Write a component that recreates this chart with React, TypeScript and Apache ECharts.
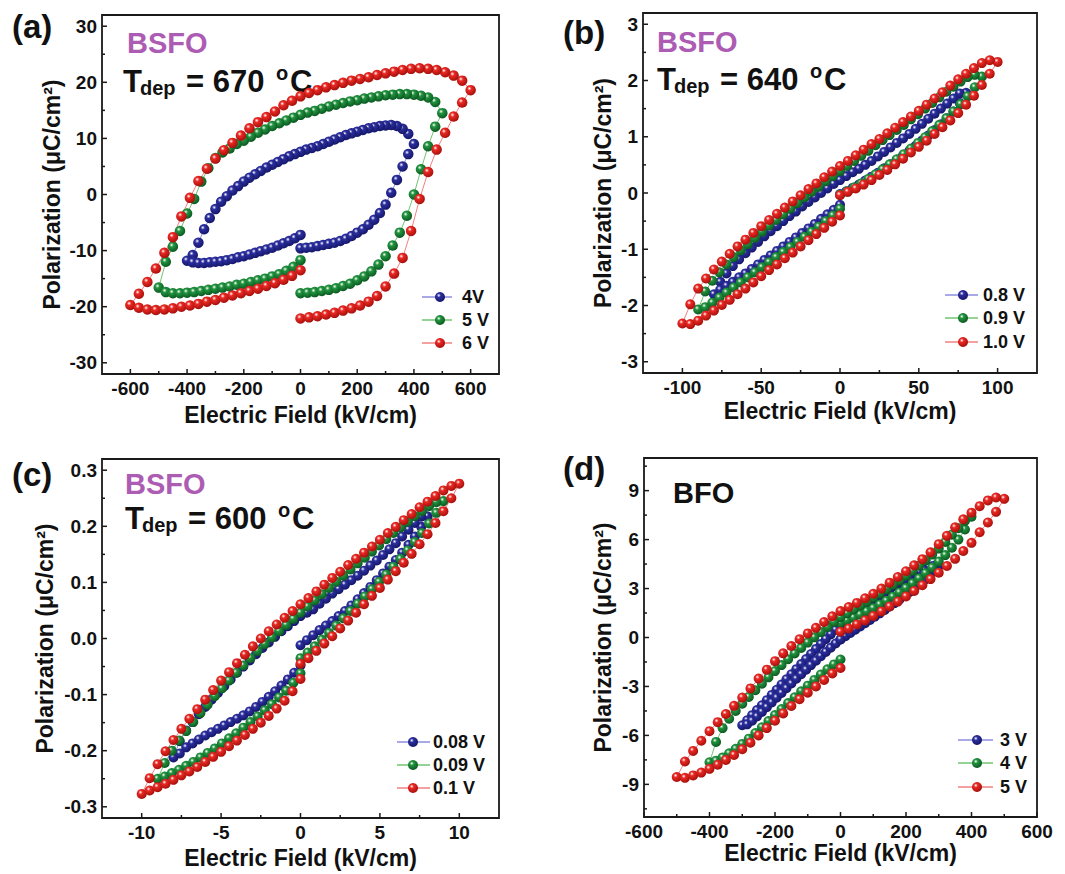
import React, { useEffect, useRef } from "react";
import * as echarts from "echarts";

// ---------- electric-field grids (kV/cm), one per drive amplitude ----------
const FIELD_600 = [0,30,60,90,120,150,180,210,240,270,300,330,360,390,420,450,480,510,540,570,600,570,540,510,480,450,420,390,360,330,300,270,240,210,180,150,120,90,60,30,0,-30,-60,-90,-120,-150,-180,-210,-240,-270,-300,-330,-360,-390,-420,-450,-480,-510,-540,-570,-600,-570,-540,-510,-480,-450,-420,-390,-360,-330,-300,-270,-240,-210,-180,-150,-120,-90,-60,-30,0];
const FIELD_500 = [0,25,50,75,100,125,150,175,200,225,250,275,300,325,350,375,400,425,450,475,500,475,450,425,400,375,350,325,300,275,250,225,200,175,150,125,100,75,50,25,0,-25,-50,-75,-100,-125,-150,-175,-200,-225,-250,-275,-300,-325,-350,-375,-400,-425,-450,-475,-500,-475,-450,-425,-400,-375,-350,-325,-300,-275,-250,-225,-200,-175,-150,-125,-100,-75,-50,-25,0];
const FIELD_400 = [0,20,40,60,80,100,120,140,160,180,200,220,240,260,280,300,320,340,360,380,400,380,360,340,320,300,280,260,240,220,200,180,160,140,120,100,80,60,40,20,0,-20,-40,-60,-80,-100,-120,-140,-160,-180,-200,-220,-240,-260,-280,-300,-320,-340,-360,-380,-400,-380,-360,-340,-320,-300,-280,-260,-240,-220,-200,-180,-160,-140,-120,-100,-80,-60,-40,-20,0];
const FIELD_300 = [0,15,30,45,60,75,90,105,120,135,150,165,180,195,210,225,240,255,270,285,300,285,270,255,240,225,210,195,180,165,150,135,120,105,90,75,60,45,30,15,0,-15,-30,-45,-60,-75,-90,-105,-120,-135,-150,-165,-180,-195,-210,-225,-240,-255,-270,-285,-300,-285,-270,-255,-240,-225,-210,-195,-180,-165,-150,-135,-120,-105,-90,-75,-60,-45,-30,-15,0];
const FIELD_100 = [0,5,10,15,20,25,30,35,40,45,50,55,60,65,70,75,80,85,90,95,100,95,90,85,80,75,70,65,60,55,50,45,40,35,30,25,20,15,10,5,0,-5,-10,-15,-20,-25,-30,-35,-40,-45,-50,-55,-60,-65,-70,-75,-80,-85,-90,-95,-100,-95,-90,-85,-80,-75,-70,-65,-60,-55,-50,-45,-40,-35,-30,-25,-20,-15,-10,-5,0];
const FIELD_90 = [0,4.5,9,13.5,18,22.5,27,31.5,36,40.5,45,49.5,54,58.5,63,67.5,72,76.5,81,85.5,90,85.5,81,76.5,72,67.5,63,58.5,54,49.5,45,40.5,36,31.5,27,22.5,18,13.5,9,4.5,0,-4.5,-9,-13.5,-18,-22.5,-27,-31.5,-36,-40.5,-45,-49.5,-54,-58.5,-63,-67.5,-72,-76.5,-81,-85.5,-90,-85.5,-81,-76.5,-72,-67.5,-63,-58.5,-54,-49.5,-45,-40.5,-36,-31.5,-27,-22.5,-18,-13.5,-9,-4.5,0];
const FIELD_80 = [0,4,8,12,16,20,24,28,32,36,40,44,48,52,56,60,64,68,72,76,80,76,72,68,64,60,56,52,48,44,40,36,32,28,24,20,16,12,8,4,0,-4,-8,-12,-16,-20,-24,-28,-32,-36,-40,-44,-48,-52,-56,-60,-64,-68,-72,-76,-80,-76,-72,-68,-64,-60,-56,-52,-48,-44,-40,-36,-32,-28,-24,-20,-16,-12,-8,-4,0];
const FIELD_10 = [0,0.5,1,1.5,2,2.5,3,3.5,4,4.5,5,5.5,6,6.5,7,7.5,8,8.5,9,9.5,10,9.5,9,8.5,8,7.5,7,6.5,6,5.5,5,4.5,4,3.5,3,2.5,2,1.5,1,0.5,0,-0.5,-1,-1.5,-2,-2.5,-3,-3.5,-4,-4.5,-5,-5.5,-6,-6.5,-7,-7.5,-8,-8.5,-9,-9.5,-10,-9.5,-9,-8.5,-8,-7.5,-7,-6.5,-6,-5.5,-5,-4.5,-4,-3.5,-3,-2.5,-2,-1.5,-1,-0.5,0];
const FIELD_9 = [0,0.45,0.9,1.35,1.8,2.25,2.7,3.15,3.6,4.05,4.5,4.95,5.4,5.85,6.3,6.75,7.2,7.65,8.1,8.55,9,8.55,8.1,7.65,7.2,6.75,6.3,5.85,5.4,4.95,4.5,4.05,3.6,3.15,2.7,2.25,1.8,1.35,0.9,0.45,0,-0.45,-0.9,-1.35,-1.8,-2.25,-2.7,-3.15,-3.6,-4.05,-4.5,-4.95,-5.4,-5.85,-6.3,-6.75,-7.2,-7.65,-8.1,-8.55,-9,-8.55,-8.1,-7.65,-7.2,-6.75,-6.3,-5.85,-5.4,-4.95,-4.5,-4.05,-3.6,-3.15,-2.7,-2.25,-1.8,-1.35,-0.9,-0.45,0];
const FIELD_8 = [0,0.4,0.8,1.2,1.6,2,2.4,2.8,3.2,3.6,4,4.4,4.8,5.2,5.6,6,6.4,6.8,7.2,7.6,8,7.6,7.2,6.8,6.4,6,5.6,5.2,4.8,4.4,4,3.6,3.2,2.8,2.4,2,1.6,1.2,0.8,0.4,0,-0.4,-0.8,-1.2,-1.6,-2,-2.4,-2.8,-3.2,-3.6,-4,-4.4,-4.8,-5.2,-5.6,-6,-6.4,-6.8,-7.2,-7.6,-8,-7.6,-7.2,-6.8,-6.4,-6,-5.6,-5.2,-4.8,-4.4,-4,-3.6,-3.2,-2.8,-2.4,-2,-1.6,-1.2,-0.8,-0.4,0];

// ---------- polarization (µC/cm²), read off the loops ----------
// (a) BSFO, Tdep = 670 °C
const P_A_4V = [-9.6,-9.5,-9.4,-9.2,-9.0,-8.8,-8.6,-8.3,-7.9,-7.4,-6.8,-6.2,-5.4,-4.5,-3.3,-1.8,0.3,2.6,5.0,7.2,9.0,
  10.8,11.7,12.2,12.4,12.3,12.2,12.0,11.8,11.5,11.2,10.9,10.6,10.2,9.8,9.4,9.0,8.6,8.3,8.0,7.6,7.2,6.8,6.3,5.8,5.3,4.8,4.2,3.6,3.0,2.3,1.5,0.7,-0.3,-1.3,-2.6,-4.2,-6.2,-8.6,-10.8,-11.8,
  -12.1,-12.2,-12.2,-12.1,-12.0,-11.9,-11.7,-11.5,-11.2,-11.0,-10.7,-10.4,-10.1,-9.8,-9.5,-9.1,-8.7,-8.3,-7.8,-7.2];
const P_A_5V = [-17.6,-17.5,-17.4,-17.2,-17.0,-16.7,-16.3,-15.9,-15.3,-14.6,-13.7,-12.5,-11.0,-9.1,-6.8,-3.8,0.0,4.5,8.6,12.1,14.5,
  16.5,17.3,17.6,17.8,17.9,17.9,17.8,17.7,17.5,17.3,17.1,16.8,16.6,16.3,16.0,15.7,15.3,14.9,14.6,14.2,13.7,13.2,12.7,12.2,11.6,11.0,10.3,9.6,9.0,8.2,7.5,6.5,4.7,2.3,-0.8,-3.4,-6.5,-9.3,-12.0,-16.6,
  -17.4,-17.6,-17.6,-17.5,-17.4,-17.2,-17.0,-16.8,-16.6,-16.4,-16.1,-15.9,-15.6,-15.3,-15.0,-14.6,-14.2,-13.6,-12.9,-11.7];
const P_A_6V = [-22.1,-21.9,-21.7,-21.4,-21.1,-20.7,-20.3,-19.8,-19.1,-18.1,-16.4,-14.1,-11.3,-6.5,-0.8,4.0,8.0,11.0,13.9,16.4,18.6,
  20.3,21.2,21.8,22.2,22.4,22.5,22.4,22.2,21.9,21.6,21.3,20.9,20.6,20.3,19.9,19.5,19.1,18.6,18.1,17.5,16.7,15.9,14.8,13.8,12.9,11.8,10.5,9.2,7.9,6.4,4.6,2.4,-0.6,-3.9,-7.6,-10.4,-13.2,-15.6,-17.7,-19.7,
  -20.2,-20.5,-20.6,-20.5,-20.3,-20.0,-19.8,-19.5,-19.1,-18.8,-18.4,-18.0,-17.6,-17.2,-16.8,-16.3,-15.8,-15.2,-14.5,-13.5];
// (b) BSFO, Tdep = 640 °C
const P_B_08V = [-0.02,0.03,0.09,0.15,0.22,0.29,0.36,0.44,0.51,0.59,0.67,0.75,0.84,0.93,1.02,1.12,1.22,1.33,1.45,1.60,1.78,
  1.77,1.68,1.59,1.50,1.41,1.32,1.23,1.14,1.05,0.97,0.89,0.81,0.73,0.65,0.57,0.50,0.43,0.37,0.30,0.23,0.16,0.08,0.00,-0.08,-0.16,-0.24,-0.33,-0.41,-0.50,-0.59,-0.68,-0.77,-0.87,-0.97,-1.07,-1.18,-1.30,-1.43,-1.58,-1.80,
  -1.72,-1.65,-1.58,-1.50,-1.43,-1.35,-1.27,-1.19,-1.11,-1.03,-0.95,-0.87,-0.79,-0.71,-0.63,-0.55,-0.46,-0.38,-0.30,-0.21];
const P_B_09V = [-0.03,0.03,0.10,0.17,0.25,0.33,0.42,0.51,0.60,0.69,0.79,0.89,0.99,1.10,1.21,1.33,1.45,1.58,1.72,1.88,2.07,
  2.10,2.06,1.98,1.89,1.80,1.70,1.60,1.50,1.40,1.31,1.21,1.12,1.03,0.94,0.85,0.75,0.66,0.57,0.48,0.39,0.30,0.21,0.11,0.02,-0.08,-0.18,-0.28,-0.38,-0.48,-0.58,-0.69,-0.80,-0.91,-1.02,-1.14,-1.27,-1.41,-1.56,-1.75,-2.07,
  -2.03,-1.95,-1.86,-1.77,-1.68,-1.59,-1.50,-1.41,-1.32,-1.23,-1.14,-1.05,-0.96,-0.87,-0.78,-0.69,-0.60,-0.50,-0.40,-0.28];
const P_B_10V = [-0.04,0.02,0.08,0.15,0.23,0.32,0.41,0.51,0.61,0.72,0.82,0.93,1.05,1.17,1.29,1.42,1.57,1.73,1.92,2.12,2.33,
  2.36,2.31,2.22,2.12,2.02,1.91,1.79,1.68,1.57,1.46,1.36,1.26,1.16,1.06,0.96,0.87,0.77,0.67,0.57,0.48,0.38,0.28,0.17,0.07,-0.04,-0.15,-0.26,-0.37,-0.48,-0.59,-0.71,-0.83,-0.95,-1.08,-1.22,-1.36,-1.52,-1.70,-1.98,-2.32,
  -2.33,-2.27,-2.18,-2.09,-1.99,-1.90,-1.80,-1.70,-1.59,-1.48,-1.37,-1.27,-1.16,-1.06,-0.95,-0.84,-0.73,-0.62,-0.51,-0.40];
// (c) BSFO, Tdep = 600 °C
const P_C_008V = [-0.012,-0.003,0.006,0.015,0.023,0.031,0.040,0.049,0.059,0.070,0.081,0.092,0.104,0.116,0.128,0.140,0.153,0.167,0.182,0.199,0.218,
  0.217,0.206,0.194,0.182,0.170,0.159,0.149,0.139,0.130,0.121,0.112,0.104,0.096,0.088,0.080,0.071,0.062,0.052,0.046,0.040,0.031,0.022,0.013,0.003,-0.007,-0.017,-0.028,-0.039,-0.050,-0.061,-0.073,-0.085,-0.097,-0.109,-0.122,-0.135,-0.149,-0.164,-0.183,-0.212,
  -0.205,-0.194,-0.187,-0.180,-0.173,-0.167,-0.161,-0.155,-0.149,-0.143,-0.137,-0.130,-0.122,-0.113,-0.104,-0.094,-0.084,-0.073,-0.061,-0.048];
const P_C_009V = [-0.035,-0.025,-0.014,-0.002,0.010,0.023,0.036,0.049,0.062,0.075,0.088,0.101,0.114,0.128,0.142,0.157,0.172,0.188,0.205,0.224,0.245,
  0.243,0.236,0.227,0.218,0.208,0.198,0.188,0.177,0.166,0.155,0.144,0.134,0.123,0.112,0.101,0.090,0.079,0.068,0.057,0.046,0.035,0.024,0.013,0.002,-0.010,-0.022,-0.035,-0.048,-0.061,-0.075,-0.089,-0.103,-0.118,-0.133,-0.149,-0.165,-0.182,-0.200,-0.222,-0.250,
  -0.246,-0.240,-0.234,-0.227,-0.220,-0.212,-0.204,-0.196,-0.187,-0.178,-0.169,-0.159,-0.149,-0.139,-0.128,-0.117,-0.105,-0.093,-0.079,-0.062];
const P_C_01V = [-0.045,-0.035,-0.022,-0.009,0.004,0.018,0.032,0.046,0.061,0.076,0.090,0.105,0.120,0.135,0.151,0.168,0.186,0.206,0.227,0.250,0.276,
  0.272,0.264,0.254,0.244,0.234,0.222,0.211,0.199,0.188,0.176,0.164,0.153,0.142,0.131,0.119,0.108,0.096,0.084,0.072,0.061,0.049,0.037,0.025,0.013,0.000,-0.014,-0.029,-0.044,-0.060,-0.075,-0.092,-0.109,-0.126,-0.143,-0.161,-0.181,-0.201,-0.224,-0.249,-0.277,
  -0.271,-0.265,-0.259,-0.252,-0.244,-0.237,-0.229,-0.220,-0.211,-0.202,-0.192,-0.182,-0.172,-0.161,-0.150,-0.138,-0.125,-0.111,-0.094,-0.072];
// (d) BFO
const P_D_3V = [-0.12,0.08,0.28,0.48,0.68,0.88,1.08,1.28,1.48,1.69,1.90,2.11,2.33,2.55,2.78,3.01,3.25,3.50,3.77,4.06,4.40,
  4.40,4.30,4.15,4.00,3.84,3.67,3.50,3.32,3.14,2.96,2.77,2.58,2.38,2.18,1.97,1.75,1.52,1.28,1.02,0.75,0.47,0.19,-0.10,-0.40,-0.70,-1.01,-1.32,-1.63,-1.94,-2.25,-2.56,-2.88,-3.20,-3.52,-3.84,-4.15,-4.45,-4.76,-5.07,-5.38,
  -5.32,-5.10,-4.84,-4.56,-4.27,-3.98,-3.69,-3.40,-3.11,-2.82,-2.53,-2.25,-1.97,-1.69,-1.42,-1.15,-0.89,-0.63,-0.37,-0.12];
const P_D_4V = [0.90,1.05,1.22,1.40,1.60,1.80,2.02,2.25,2.50,2.76,3.03,3.32,3.62,3.94,4.28,4.65,5.05,5.50,6.00,6.62,7.40,
  7.15,6.70,6.30,5.85,5.45,5.08,4.73,4.40,4.09,3.79,3.50,3.23,2.96,2.70,2.45,2.20,1.96,1.72,1.48,1.25,0.95,0.64,0.33,0.01,-0.31,-0.64,-0.98,-1.33,-1.69,-2.06,-2.44,-2.83,-3.23,-3.64,-4.06,-4.50,-4.98,-5.55,-6.40,-7.65,
  -7.55,-7.35,-7.10,-6.82,-6.52,-6.20,-5.85,-5.50,-5.12,-4.75,-4.38,-4.02,-3.66,-3.30,-2.95,-2.60,-2.27,-1.95,-1.65,-1.35];
const P_D_5V = [0.35,0.55,0.80,1.05,1.32,1.60,1.90,2.20,2.52,2.85,3.20,3.58,3.97,4.38,4.82,5.30,5.80,6.45,7.05,7.70,8.50,
  8.58,8.40,8.05,7.65,7.24,6.75,6.23,5.72,5.22,4.80,4.42,4.06,3.71,3.36,3.00,2.68,2.40,2.12,1.87,1.62,1.30,0.95,0.59,0.25,-0.10,-0.52,-0.97,-1.45,-1.97,-2.52,-3.12,-3.68,-4.19,-4.69,-5.19,-5.74,-6.33,-6.95,-7.60,-8.55,
  -8.60,-8.45,-8.28,-8.05,-7.80,-7.50,-7.20,-6.85,-6.45,-6.00,-5.55,-5.10,-4.65,-4.20,-3.78,-3.38,-3.00,-2.60,-2.20,-1.87];

// ---------- tick values ----------
const A_X_TICKS = [-600,-400,-200,0,200,400,600];
const A_X_MINOR = [-500,-300,-100,100,300,500];
const A_Y_TICKS = [-30,-20,-10,0,10,20,30];
const A_Y_MINOR = [-25,-15,-5,5,15,25];
const B_X_TICKS = [-100,-50,0,50,100];
const B_X_MINOR = [-75,-25,25,75];
const B_Y_TICKS = [-3,-2,-1,0,1,2,3];
const B_Y_MINOR = [-2.5,-1.5,-0.5,0.5,1.5,2.5];
const C_X_TICKS = [-10,-5,0,5,10];
const C_X_MINOR = [-7.5,-2.5,2.5,7.5];
const C_Y_TICKS = [-0.3,-0.2,-0.1,0,0.1,0.2,0.3];
const C_Y_MINOR = [-0.25,-0.15,-0.05,0.05,0.15,0.25];
const D_X_TICKS = [-600,-400,-200,0,200,400,600];
const D_X_MINOR = [-500,-300,-100,100,300,500];
const D_Y_TICKS = [-9,-6,-3,0,3,6,9];
const D_Y_MINOR = [-10.5,-7.5,-4.5,-1.5,1.5,4.5,7.5,10.5];

const LEGEND_A = ["4V", "5 V", "6 V"];
const LEGEND_B = ["0.8 V", "0.9 V", "1.0 V"];
const LEGEND_C = ["0.08 V", "0.09 V", "0.1 V"];
const LEGEND_D = ["3 V", "4 V", "5 V"];

const X_TITLE = "Electric Field (kV/cm)";
const Y_TITLE = "Polarization (\u03bcC/cm\u00b2)";

const FONT = '"Liberation Sans", Arial, Helvetica, sans-serif';
const INK = "#111111";
const FRAME = "#1a1a1a";
const PURPLE = "#ad5cb3";
const COLORS = [
  { main: "#2c2f9e", dark: "#15176a", line: "#8c8ce0" },
  { main: "#22943f", dark: "#0c5a22", line: "#72c472" },
  { main: "#ea2924", dark: "#a8100c", line: "#f28080" },
];

function ball(c: { main: string; dark: string }) {
  return new echarts.graphic.RadialGradient(0.38, 0.34, 0.66, [
    { offset: 0, color: "#ffffff" },
    { offset: 0.3, color: c.main },
    { offset: 1, color: c.dark },
  ]);
}

function txt(x: number, y: number, text: string, size: number, fill = INK, align = "left", vAlign = "middle", rotation = 0) {
  return {
    type: "text", x, y, rotation, silent: true,
    style: { text, fill, fontSize: size, fontWeight: "bold", fontFamily: FONT, verticalAlign: vAlign, align },
  };
}

function tick(x1: number, y1: number, x2: number, y2: number) {
  return { type: "line", silent: true, shape: { x1, y1, x2, y2 }, style: { stroke: FRAME, lineWidth: 1.5 } };
}

export default function App() {
  const ref = useRef<HTMLDivElement>(null);
  useEffect(() => {
    if (!ref.current) return;
    const chart = echarts.init(ref.current, null, { renderer: "svg" });

    const panels: any[] = [
      {
        grid: { left: 102, top: 15, width: 397, height: 359 },
        xr: [-700, 700], yr: [-32, 32],
        xt: A_X_TICKS, xm: A_X_MINOR, yt: A_Y_TICKS, ym: A_Y_MINOR,
        yfmt: (v: number) => String(v), xTitleY: 415, yTitleX: 52, size: 10.5,
        loops: [[FIELD_400, P_A_4V], [FIELD_500, P_A_5V], [FIELD_600, P_A_6V]], names: LEGEND_A,
        legend: { x1: 422, x2: 452, cx: 440, tx: 462, ys: [297, 320, 343] },
      },
      {
        grid: { left: 643, top: 13, width: 394, height: 360 },
        xr: [-125, 125], yr: [-3.2, 3.2],
        xt: B_X_TICKS, xm: B_X_MINOR, yt: B_Y_TICKS, ym: B_Y_MINOR,
        yfmt: (v: number) => String(v), xTitleY: 411, yTitleX: 603, size: 10,
        loops: [[FIELD_80, P_B_08V], [FIELD_90, P_B_09V], [FIELD_100, P_B_10V]], names: LEGEND_B,
        legend: { x1: 945, x2: 978, cx: 963, tx: 983, ys: [295, 318, 342] },
      },
      {
        grid: { left: 102, top: 459, width: 397, height: 359 },
        xr: [-12.5, 12.5], yr: [-0.32, 0.32],
        xt: C_X_TICKS, xm: C_X_MINOR, yt: C_Y_TICKS, ym: C_Y_MINOR,
        yfmt: (v: number) => v.toFixed(1), xTitleY: 858, yTitleX: 45, size: 10,
        loops: [[FIELD_8, P_C_008V], [FIELD_9, P_C_009V], [FIELD_10, P_C_01V]], names: LEGEND_C,
        legend: { x1: 397, x2: 430, cx: 413, tx: 433, ys: [742, 765, 788] },
      },
      {
        grid: { left: 644, top: 458, width: 393, height: 359 },
        xr: [-600, 600], yr: [-11, 11],
        xt: D_X_TICKS, xm: D_X_MINOR, yt: D_Y_TICKS, ym: D_Y_MINOR,
        yfmt: (v: number) => String(v), xTitleY: 853, yTitleX: 603, size: 10,
        loops: [[FIELD_300, P_D_3V], [FIELD_400, P_D_4V], [FIELD_500, P_D_5V]], names: LEGEND_D,
        legend: { x1: 958, x2: 993, cx: 977, tx: 1000, ys: [740, 763, 787] },
      },
    ];

    const grid: any[] = [];
    const xAxis: any[] = [];
    const yAxis: any[] = [];
    const series: any[] = [];
    const graphic: any[] = [];

    panels.forEach((p, i) => {
      grid.push({ ...p.grid, show: false });
      // scales only; frame, ticks, labels and titles are placed below through these scales
      xAxis.push({ type: "value", gridIndex: i, min: p.xr[0], max: p.xr[1], show: false, axisLine: { show: false, onZero: false }, splitLine: { show: false } });
      yAxis.push({ type: "value", gridIndex: i, min: p.yr[0], max: p.yr[1], show: false, axisLine: { show: false, onZero: false }, splitLine: { show: false } });
      p.loops.forEach((lp: any, k: number) => {
        const field: number[] = lp[0];
        const pol: number[] = lp[1];
        const c = COLORS[k];
        series.push({
          type: "line", name: p.names[k], xAxisIndex: i, yAxisIndex: i,
          data: field.map((e, j) => [e, pol[j]]),
          symbol: "circle", symbolSize: p.size, showSymbol: true,
          lineStyle: { color: c.line, width: 1 },
          itemStyle: { color: ball(c) },
          emphasis: { disabled: true }, silent: true,
        });
        const L = p.legend;
        const y = L.ys[k];
        graphic.push({ type: "line", silent: true, shape: { x1: L.x1, y1: y, x2: L.x2, y2: y }, style: { stroke: c.line, lineWidth: 1.5 } });
        graphic.push({ type: "circle", silent: true, shape: { cx: L.cx, cy: y, r: 5 }, style: { fill: ball(c) } });
        graphic.push(txt(L.tx, y, p.names[k], 18));
      });
    });

    // panel letters
    graphic.push(txt(12, 26, "(a)", 33));
    graphic.push(txt(563, 32, "(b)", 33));
    graphic.push(txt(12, 474, "(c)", 33));
    graphic.push(txt(563, 468, "(d)", 33));
    // sample annotations
    const tdep = (x: number, y: number, temp: string) => [
      txt(x, y, "T", 31),
      txt(x + 17, y + 7, "dep", 20),
      txt(x + 63, y, "= " + temp, 31),
      txt(x + 153, y - 8, "o", 20),
      txt(x + 167, y, "C", 31),
    ];
    graphic.push(txt(127, 43, "BSFO", 29, PURPLE));
    graphic.push(...tdep(123, 81, "670"));
    graphic.push(txt(657, 42, "BSFO", 29, PURPLE));
    graphic.push(...tdep(657, 79, "640"));
    graphic.push(txt(125, 484, "BSFO", 29, PURPLE));
    graphic.push(...tdep(125, 518, "600"));
    graphic.push(txt(673, 493, "BFO", 29));

    chart.setOption({
      animation: false,
      backgroundColor: "#ffffff",
      grid, xAxis, yAxis, series,
    });

    // frame, inward ticks, tick labels and titles, positioned with the chart's own scales
    const axes: any[] = [];
    panels.forEach((p, i) => {
      const toPx = (v: number[]) => chart.convertToPixel({ xAxisIndex: i, yAxisIndex: i }, v) as number[];
      const tl = toPx([p.xr[0], p.yr[1]]);
      const br = toPx([p.xr[1], p.yr[0]]);
      axes.push({
        type: "rect", silent: true,
        shape: { x: tl[0], y: tl[1], width: br[0] - tl[0], height: br[1] - tl[1] },
        style: { fill: "none", stroke: FRAME, lineWidth: 1.8 },
      });
      const yBottom = p.yr[0], xLeft = p.xr[0];
      p.xt.forEach((v: number) => {
        const pt = toPx([v, yBottom]);
        axes.push(tick(pt[0], pt[1], pt[0], pt[1] - 5));
        axes.push(txt(pt[0], pt[1] + 5, String(v), 19, INK, "center", "top"));
      });
      p.xm.forEach((v: number) => {
        const pt = toPx([v, yBottom]);
        axes.push(tick(pt[0], pt[1], pt[0], pt[1] - 3));
      });
      p.yt.forEach((v: number) => {
        const pt = toPx([xLeft, v]);
        axes.push(tick(pt[0], pt[1], pt[0] + 5, pt[1]));
        axes.push(txt(pt[0] - 5, pt[1], p.yfmt(v), 19, INK, "right", "middle"));
      });
      p.ym.forEach((v: number) => {
        const pt = toPx([xLeft, v]);
        axes.push(tick(pt[0], pt[1], pt[0] + 3, pt[1]));
      });
      const g = p.grid;
      axes.push(txt(g.left + g.width / 2, p.xTitleY, X_TITLE, 23, INK, "center", "middle"));
      axes.push(txt(p.yTitleX, g.top + g.height / 2, Y_TITLE, 23, INK, "center", "middle", Math.PI / 2));
    });
    chart.setOption({ graphic: [...graphic, ...axes] });
    return () => chart.dispose();
  }, []);
  return <div ref={ref} style={{ position: "absolute", left: 0, top: 0, width: 1065, height: 874 }} />;
}
